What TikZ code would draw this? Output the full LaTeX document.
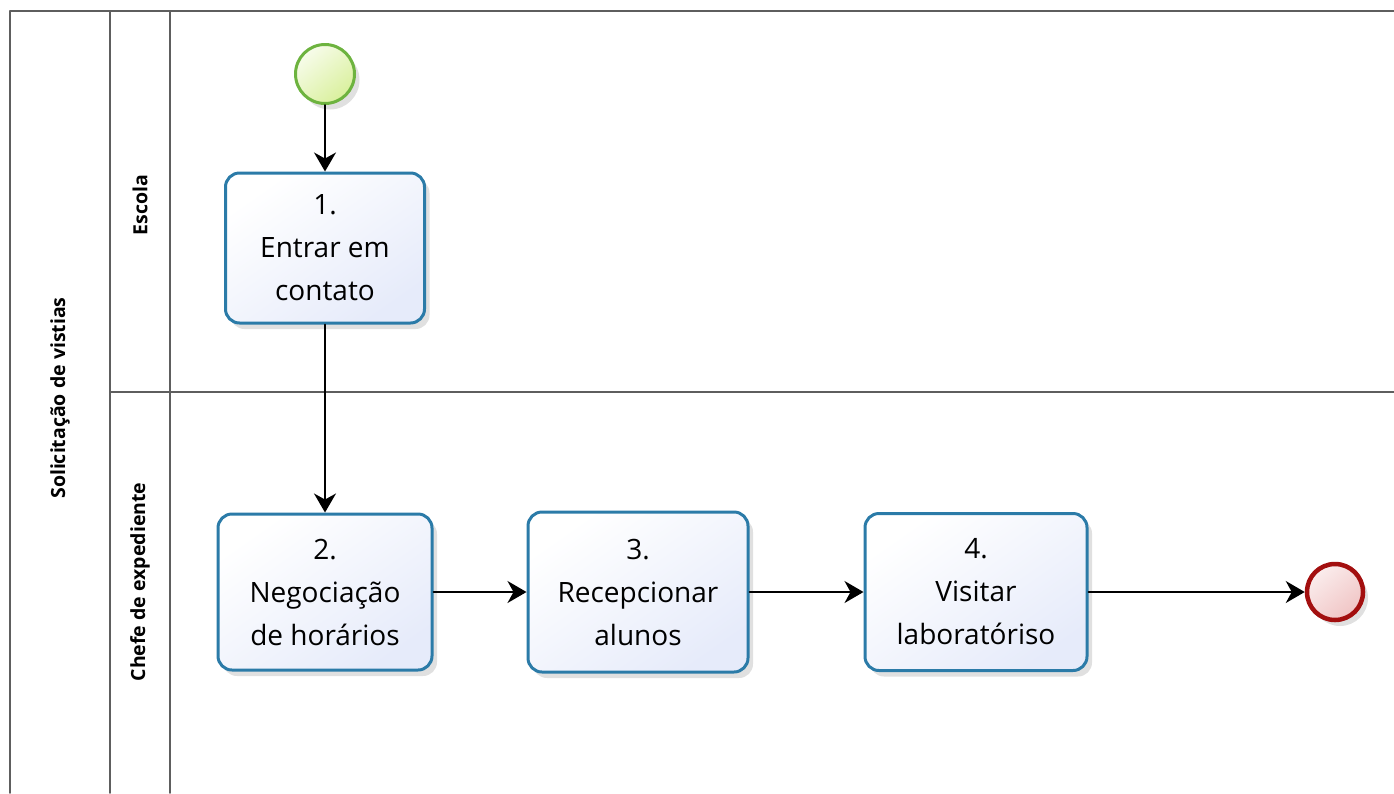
\documentclass[tikz,border=0pt]{standalone}
\usepackage{fontspec}
\setmainfont{Open Sans}
\usepackage{tikz}
\usetikzlibrary{arrows.meta,shadows}
\definecolor{poolline}{HTML}{5E5E5E}
\definecolor{taskblue}{HTML}{2B7BA8}
\definecolor{taskfill}{HTML}{E6EBFA}
\definecolor{startgreen}{HTML}{6DB33F}
\definecolor{startfill}{HTML}{D9F09C}
\definecolor{endred}{HTML}{A30F0F}
\definecolor{endfill}{HTML}{F0C4C4}
\tikzset{
every picture/.style={line cap=round,line join=round},
>={Stealth[length=19pt,width=22pt,inset=6pt]},
pool line/.style={draw=poolline, line width=1.6pt},
lane label/.style={font=\bfseries\fontsize{19.5}{22}\selectfont, rotate=90},
soft shadow/.style={drop shadow={shadow xshift=5pt, shadow yshift=-6pt, opacity=0.12, fill=black}},
task box/.style={
  draw=taskblue,
  line width=3pt,
  rounded corners=14pt,
  top color=white,
  bottom color=taskfill,
  shading angle=35,
  align=center,
  inner sep=0pt,
  text=black,
  font=\fontsize{28}{43}\selectfont,
  soft shadow
},
start event/.style={circle, draw=startgreen, line width=3pt, minimum size=59pt,
  inner sep=0pt, top color=white!80!startfill, bottom color=startfill, shading angle=40, soft shadow},
end event/.style={circle, draw=endred, line width=4.5pt, minimum size=56pt,
  inner sep=0pt, top color=white!70!endfill, bottom color=endfill, shading angle=40, soft shadow},
fig flow/.style={draw=black, ->, line width=1.6pt}
}
\begin{document}
\begin{tikzpicture}[x=1pt,y=-1pt]
\useasboundingbox (0,0) rectangle (1394,793);
% pool and lanes
\draw[pool line] (1394,11) -- (10,11) -- (10,793);
\draw[pool line] (110,11) -- (110,793);
\draw[pool line] (170,11) -- (170,793);
\draw[pool line] (110,392) -- (1394,392);
\node[lane label] (pool) at (60,398) {Solicitação de vistias};
\node[lane label] (escola) at (140,205) {Escola};
\node[lane label] (chefe) at (140,582) {Chefe de expediente};
% events and tasks
\node[start event] (start) at (325,74) {};
\node[task box, minimum width=199pt, minimum height=150pt] (task1) at (325,248)
  {1.\\Entrar em\\contato};
\node[task box, minimum width=214pt, minimum height=156pt] (task2) at (325,592)
  {2.\\Negociação\\de horários};
\node[task box, minimum width=220pt, minimum height=160pt] (task3) at (638,592)
  {3.\\Recepcionar\\alunos};
\node[task box, minimum width=222pt, minimum height=157pt] (task4) at (976,592)
  {4.\\Visitar\\laboratóriso};
\node[end event] (finish) at (1335,592) {};
% sequence flows
\draw[fig flow] (start) -- (task1);
\draw[fig flow] (task1) -- (task2);
\draw[fig flow] (task2) -- (task3);
\draw[fig flow] (task3) -- (task4);
\draw[fig flow] (task4) -- (finish);
\end{tikzpicture}
\end{document}
